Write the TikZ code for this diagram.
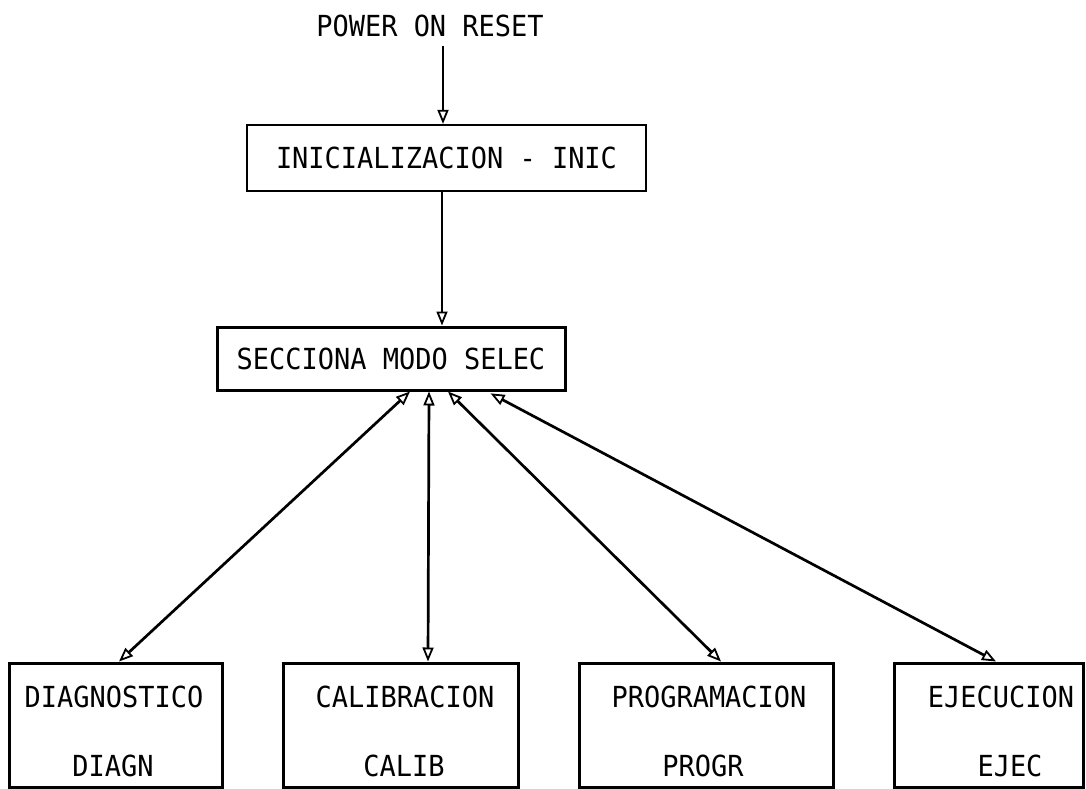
\documentclass[tikz,border=0pt]{standalone}
\usepackage{fontspec}
\usetikzlibrary{arrows.meta}
\newfontfamily\tw[FakeStretch=0.93]{DejaVu Sans Mono}
\begin{document}
\begin{tikzpicture}[x=1pt,y=-1pt,
  txt/.style={font=\tw\fontsize{29}{32}\selectfont, inner sep=0pt},
  box/.style={draw, line width=3pt, inner sep=0pt, txt},
  thinbox/.style={box, line width=2.2pt},
  one/.style={line width=2.7pt, -{Triangle[open,length=14pt,width=11pt,line width=1.8pt]}},
  two/.style={line width=2.7pt, {Triangle[open,length=14pt,width=11pt,line width=1.8pt]}-{Triangle[open,length=14pt,width=11pt,line width=1.8pt]}}]
  % page
  \fill[white] (0,0) rectangle (1086,789);
  \useasboundingbox (0,0) rectangle (1086,789);

  % top of the chart
  \node[txt] (power) at (430,26) {POWER ON RESET};
  \node[thinbox, minimum width=399pt, minimum height=66pt] (inic) at (446.5,158) {INICIALIZACION - INIC};
  \node[box, minimum width=348pt, minimum height=63pt] (selec) at (391,358.5) {SECCIONA MODO SELEC};

  % the four modes
  \node[box, minimum width=213pt, minimum height=124pt] (diag)  at (115.5,725) {};
  \node[box, minimum width=235pt, minimum height=124pt] (calib) at (400.5,725) {};
  \node[box, minimum width=254pt, minimum height=124pt] (progr) at (706,725) {};
  \node[box, minimum width=189pt, minimum height=124pt] (ejec)  at (988.5,725) {};

  \node[txt] (diagA)  at (114,697)  {DIAGNOSTICO};
  \node[txt] (diagB)  at (113,766)  {DIAGN};
  \node[txt] (calibA) at (405,697)  {CALIBRACION};
  \node[txt] (calibB) at (404,766)  {CALIB};
  \node[txt] (progrA) at (709,697)  {PROGRAMACION};
  \node[txt] (progrB) at (703,766)  {PROGR};
  \node[txt] (ejecA)  at (1001,697) {EJECUCION};
  \node[txt] (ejecB)  at (1010,766) {EJEC};

  % connectors
  \draw[one, shorten <=9pt] (power.south -| 443,0) -- (inic.north -| 443,0);
  \draw[one] (inic.south -| 442,0) -- (selec.north -| 442,0);
  \draw[two] (selec.south -| 410,0) -- (diag.north -| 119,0);
  \draw[two] (selec.south -| 429,0) -- (calib.north -| 428,0);
  \draw[two] (selec.south -| 448,0) -- (progr.north -| 721,0);
  \draw[two, shorten <=4pt] (selec.south -| 487,0) -- (ejec.north -| 996,0);
\end{tikzpicture}
\end{document}
